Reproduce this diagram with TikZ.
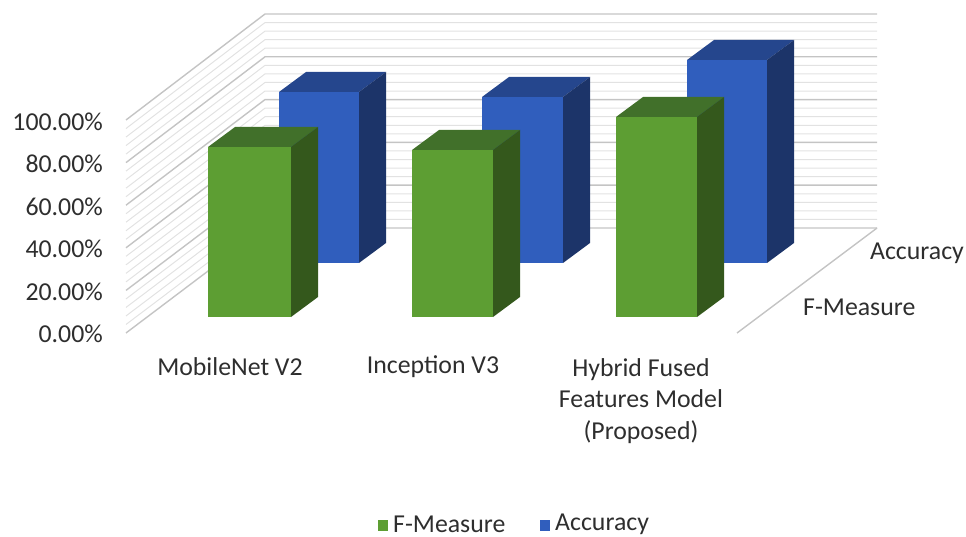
\documentclass[tikz,border=0pt]{standalone}
\usepackage{fontspec}
\setmainfont{Carlito}
\definecolor{txt}{HTML}{2E2E2E}
\definecolor{gmaj}{HTML}{C4C4C4}
\definecolor{gmin}{HTML}{E2E2E2}
\definecolor{gfront}{HTML}{5D9E33}
\definecolor{gtop}{HTML}{41702A}
\definecolor{gside}{HTML}{34581C}
\definecolor{bfront}{HTML}{305EBD}
\definecolor{btop}{HTML}{25468D}
\definecolor{bside}{HTML}{1C3469}
\tikzset{
  lbl/.style={inner sep=0pt, text=txt, font=\fontsize{25.8}{31}\selectfont},
  major/.style={draw=gmaj, line width=1.4pt},
  minor/.style={draw=gmin, line width=1pt},
}
% bar: x0, x1, top, bottom, front, top, side colours
\newcommand{\mybar}[7]{%
  \fill[#6] (#1,#3) -- ++(27,-20) -- (#2+27,#3-20) -- (#2,#3) -- cycle;
  \fill[#7] (#2,#3) -- (#2+27,#3-20) -- (#2+27,#4-20) -- (#2,#4) -- cycle;
  \fill[#5] (#1,#3) rectangle (#2,#4);
}
\begin{document}
\begin{tikzpicture}[x=1pt,y=-1pt]
\useasboundingbox (0,0) rectangle (966,537);
% grid
\foreach \i in {0,...,25}{
  \pgfmathsetmacro{\v}{4*\i}
  \pgfmathsetmacro{\yb}{228-\v*2.14}
  \pgfmathsetmacro{\yf}{333-\v*2.13}
  \pgfmathtruncatemacro{\m}{mod(\i,5)}
  \ifnum\m=0
    \draw[major] (126,\yf) -- (265,\yb) -- (877,\yb);
  \else
    \draw[minor] (126,\yf) -- (265,\yb) -- (877,\yb);
  \fi
}
\coordinate (fb) at (877,228);
\coordinate (ff) at (737,333);
\draw[major] (fb) -- (ff);
% blue bars
\mybar{279}{359}{92}{263}{bfront}{btop}{bside}
\mybar{482}{563}{97}{263}{bfront}{btop}{bside}
\mybar{687}{767}{60}{263}{bfront}{btop}{bside}
% green bars
\mybar{208}{291}{147}{317}{gfront}{gtop}{gside}
\mybar{412}{493}{150}{317}{gfront}{gtop}{gside}
\mybar{616}{697}{117}{317}{gfront}{gtop}{gside}
% y labels
\node[lbl, anchor=east] (y100) at (103,122) {100.00\%};
\node[lbl, anchor=east] (y80) at (103,164) {80.00\%};
\node[lbl, anchor=east] (y60) at (103,207) {60.00\%};
\node[lbl, anchor=east] (y40) at (103,249) {40.00\%};
\node[lbl, anchor=east] (y20) at (103,292) {20.00\%};
\node[lbl, anchor=east] (y0) at (103,334) {0.00\%};
% category labels
\node[lbl] (c1) at (230,367) {MobileNet V2};
\node[lbl] (c2) at (433,367) {Inception V3};
\node[lbl, align=center, font=\fontsize{25.8}{31.5}\selectfont] (c3) at (641,401) {Hybrid Fused\\Features Model\\(Proposed)};
% series labels
\node[lbl, anchor=east] (sA) at (964,253) {Accuracy};
\node[lbl, anchor=west] (sF) at (803,307) {F-Measure};
% legend
\fill[gfront] (378,520) rectangle (388,531);
\node[lbl, anchor=west] (lF) at (393,524) {F-Measure};
\fill[bfront] (540,520) rectangle (550,531);
\node[lbl, anchor=west] (lA) at (555,524) {Accuracy};
\end{tikzpicture}
\end{document}
